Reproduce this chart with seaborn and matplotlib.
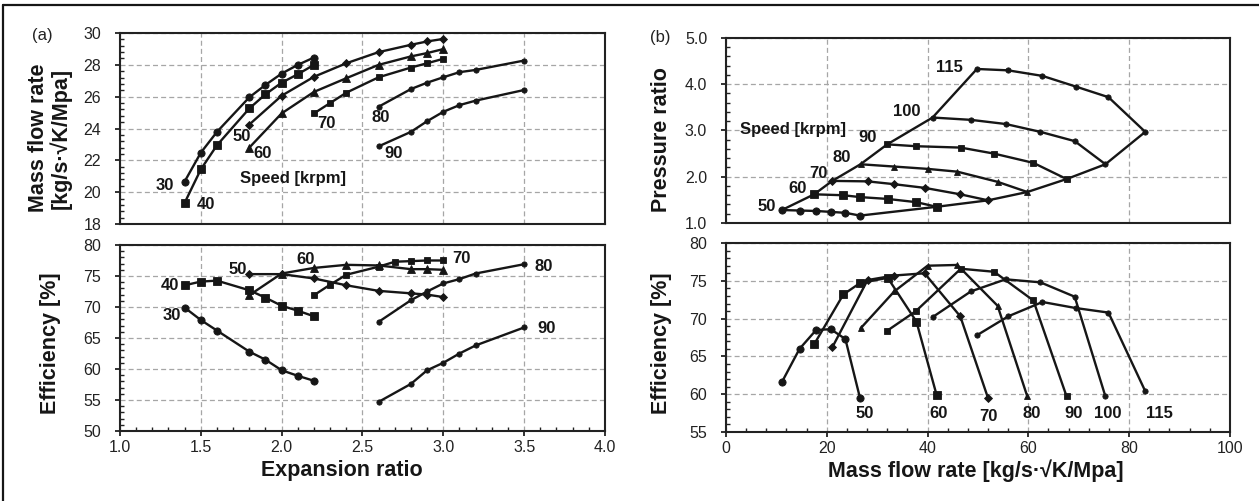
import matplotlib
matplotlib.use("Agg")
import matplotlib.pyplot as plt
from matplotlib.lines import Line2D
from matplotlib.ticker import MultipleLocator, FormatStrFormatter
import seaborn as sns

# ---------------- data: (a) expansion ratio map ----------------
ER_A = [1.4, 1.5, 1.6, 1.8, 1.9, 2.0, 2.1, 2.2]          # 30, 40 krpm
ER_B = [1.8, 2.0, 2.2, 2.4, 2.6, 2.8, 2.9, 3.0]          # 50, 60 krpm
ER_70M = [2.2, 2.3, 2.4, 2.6, 2.8, 2.9, 3.0]
ER_70E = [2.2, 2.3, 2.4, 2.6, 2.7, 2.8, 2.9, 3.0]
ER_C = [2.6, 2.8, 2.9, 3.0, 3.1, 3.2, 3.5]               # 80, 90 krpm

MFR_30 = [20.67, 22.48, 23.79, 25.96, 26.74, 27.45, 28.0, 28.46]
MFR_40 = [19.33, 21.43, 22.95, 25.26, 26.15, 26.88, 27.41, 28.0]
MFR_50 = [24.25, 26.06, 27.25, 28.1, 28.8, 29.26, 29.47, 29.63]
MFR_60 = [22.8, 24.95, 26.3, 27.16, 28.0, 28.53, 28.74, 28.99]
MFR_70 = [24.95, 25.6, 26.25, 27.22, 27.83, 28.1, 28.38]
MFR_80 = [25.37, 26.48, 26.88, 27.22, 27.54, 27.68, 28.27]
MFR_90 = [22.88, 23.79, 24.46, 25.05, 25.47, 25.75, 26.42]

EFF_30 = [69.9, 67.9, 66.2, 62.8, 61.5, 59.8, 58.9, 58.1]
EFF_40 = [73.5, 74.1, 74.25, 72.7, 71.5, 70.2, 69.4, 68.5]
EFF_50 = [75.3, 75.3, 74.6, 73.5, 72.6, 72.2, 72.0, 71.6]
EFF_60 = [71.9, 75.4, 76.3, 76.8, 76.7, 76.1, 76.1, 76.0]
EFF_70 = [71.9, 73.6, 75.2, 76.5, 77.3, 77.4, 77.5, 77.5]
EFF_80 = [67.6, 71.1, 72.5, 73.8, 74.5, 75.4, 76.9]
EFF_90 = [54.7, 57.6, 59.8, 61.0, 62.5, 63.8, 66.7]

# ---------------- data: (b) mass flow map ----------------
SPEEDS_B = ["50", "60", "70", "80", "90", "100", "115"]
MF = {
    "50": [11.1, 14.6, 17.9, 20.8, 23.7, 26.6],
    "60": [17.5, 23.3, 26.6, 32.1, 37.8, 41.8],
    "70": [21.1, 28.1, 33.3, 39.4, 46.5, 52.0],
    "80": [26.7, 33.4, 40.0, 45.9, 53.9, 59.8],
    "90": [32.0, 37.7, 46.6, 53.2, 61.0, 67.6],
    "100": [41.0, 48.6, 55.5, 62.4, 69.2, 75.3],
    "115": [49.8, 56.0, 62.8, 69.4, 75.9, 83.2],
}
PR = {
    "50": [1.28, 1.27, 1.26, 1.24, 1.22, 1.16],
    "60": [1.62, 1.60, 1.56, 1.52, 1.45, 1.35],
    "70": [1.91, 1.90, 1.84, 1.76, 1.62, 1.49],
    "80": [2.27, 2.22, 2.17, 2.11, 1.89, 1.67],
    "90": [2.70, 2.66, 2.63, 2.50, 2.30, 1.95],
    "100": [3.28, 3.23, 3.14, 2.97, 2.77, 2.27],
    "115": [4.33, 4.30, 4.18, 3.95, 3.72, 2.97],
}
EFFB = {
    "50": [61.6, 66.0, 68.5, 68.6, 67.3, 59.5],
    "60": [66.6, 73.2, 74.7, 75.4, 69.6, 59.9],
    "70": [66.2, 75.1, 75.7, 76.0, 70.3, 59.5],
    "80": [68.7, 73.6, 77.0, 77.1, 71.7, 59.7],
    "90": [68.4, 71.0, 76.6, 76.2, 72.4, 59.7],
    "100": [70.2, 73.6, 75.2, 74.8, 72.9, 59.7],
    "115": [67.8, 70.3, 72.2, 71.4, 70.8, 60.4],
}

# ---------------- style ----------------
sns.set_theme(style="ticks")
plt.rcParams["font.family"] = ["Liberation Sans", "DejaVu Sans"]
plt.rcParams["axes.linewidth"] = 1.5

INK = "#161616"
GRID = "#a6a6a6"

fig = plt.figure(figsize=(12.59, 5.01), dpi=100)
ax1 = fig.add_axes([0.0953, 0.5529, 0.3852, 0.3812])
ax2 = fig.add_axes([0.0953, 0.1397, 0.3852, 0.3713])
ax3 = fig.add_axes([0.5766, 0.5549, 0.4003, 0.3693])
ax4 = fig.add_axes([0.5766, 0.1377, 0.4003, 0.3772])


def draw(ax, x, y, marker=None, ms=5.0):
    kw = dict(x=x, y=y, ax=ax, color=INK, linewidth=1.7, sort=False,
              estimator=None, legend=False)
    if marker is not None:
        kw.update(marker=marker, markersize=ms, markeredgecolor=INK,
                  markerfacecolor=INK, markeredgewidth=0.6)
    sns.lineplot(**kw)


# (a) top: mass flow rate
draw(ax1, ER_A, MFR_30, "o", 5.2)
draw(ax1, ER_A, MFR_40, "s", 5.2)
draw(ax1, ER_B, MFR_50, "D", 4.3)
draw(ax1, ER_B, MFR_60, "^", 5.2)
draw(ax1, ER_70M, MFR_70, "s", 4.3)
draw(ax1, ER_C, MFR_80, "o", 3.8)
draw(ax1, ER_C, MFR_90, "o", 3.8)

# (a) bottom: efficiency
draw(ax2, ER_A, EFF_30, "o", 5.2)
draw(ax2, ER_A, EFF_40, "s", 5.2)
draw(ax2, ER_B, EFF_50, "D", 4.3)
draw(ax2, ER_B, EFF_60, "^", 5.2)
draw(ax2, ER_70E, EFF_70, "s", 4.3)
draw(ax2, ER_C, EFF_80, "o", 3.8)
draw(ax2, ER_C, EFF_90, "o", 3.8)

MARK_B = {"50": ("o", 5.2), "60": ("s", 5.2), "70": ("D", 4.3), "80": ("^", 4.8),
          "90": ("s", 4.3), "100": ("o", 3.8), "115": ("o", 3.8)}
for s in SPEEDS_B:
    m, ms = MARK_B[s]
    draw(ax3, MF[s], PR[s], m, ms)
    draw(ax4, MF[s], EFFB[s], m, ms)
# surge and choke lines of the compressor map
draw(ax3, [MF[s][0] for s in SPEEDS_B], [PR[s][0] for s in SPEEDS_B])
draw(ax3, [MF[s][-1] for s in SPEEDS_B], [PR[s][-1] for s in SPEEDS_B])

# ---------------- axes formatting ----------------
for ax in (ax1, ax2, ax3, ax4):
    ax.set_axisbelow(True)
    ax.grid(True, which="major", color=GRID, linestyle=(0, (4, 2.5)), linewidth=0.9)
    for sp in ax.spines.values():
        sp.set_color("#222222")
        sp.set_linewidth(1.5)
    ax.tick_params(which="major", direction="out", length=3.5, width=1.3,
                   labelsize=11.5, labelcolor="#222222", color="#222222")
    ax.tick_params(which="minor", direction="in", length=2.8, width=1.0, color="#222222")
    ax.tick_params(axis="y", which="major", pad=10)
    ax.tick_params(axis="x", which="major", pad=3)
    ax.set_xlabel("")
    ax.set_ylabel("")

for ax in (ax1, ax2):
    ax.set_xlim(1.0, 4.0)
    ax.xaxis.set_major_locator(MultipleLocator(0.5))
    ax.xaxis.set_major_formatter(FormatStrFormatter("%.1f"))
    ax.xaxis.set_minor_locator(MultipleLocator(0.1))
for ax in (ax3, ax4):
    ax.set_xlim(0, 100)
    ax.xaxis.set_major_locator(MultipleLocator(20))
    ax.xaxis.set_minor_locator(MultipleLocator(4))

for ax in (ax1, ax3):
    ax.tick_params(axis="x", which="both", length=0, labelbottom=False)

ax1.set_ylim(18, 30)
ax1.yaxis.set_major_locator(MultipleLocator(2))
ax1.yaxis.set_minor_locator(MultipleLocator(0.4))
ax2.set_ylim(50, 80)
ax2.yaxis.set_major_locator(MultipleLocator(5))
ax2.yaxis.set_minor_locator(MultipleLocator(1))
ax3.set_ylim(1.0, 5.0)
ax3.yaxis.set_major_locator(MultipleLocator(1.0))
ax3.yaxis.set_major_formatter(FormatStrFormatter("%.1f"))
ax3.yaxis.set_minor_locator(MultipleLocator(0.2))
ax4.set_ylim(55, 80)
ax4.yaxis.set_major_locator(MultipleLocator(5))
ax4.yaxis.set_minor_locator(MultipleLocator(1))

# ---------------- annotations ----------------
lab = dict(ha="center", va="center", fontsize=12, fontweight="bold", color=INK)
for x, y, t in [(1.28, 20.44, "30"), (1.53, 19.2, "40"), (1.75, 23.5, "50"),
                (1.88, 22.4, "60"), (2.28, 24.3, "70"), (2.61, 24.72, "80"),
                (2.69, 22.4, "90")]:
    ax1.text(x, y, t, **lab)
ax1.text(2.07, 20.85, "Speed [krpm]", **lab)

for x, y, t in [(1.32, 68.7, "30"), (1.31, 73.5, "40"), (1.73, 76.1, "50"),
                (2.15, 77.7, "60"), (3.11, 77.9, "70"), (3.62, 76.6, "80"),
                (3.64, 66.5, "90")]:
    ax2.text(x, y, t, **lab)

for x, y, t in [(8.1, 1.35, "50"), (14.3, 1.74, "60"), (18.3, 2.08, "70"),
                (23.0, 2.41, "80"), (28.2, 2.84, "90"), (35.9, 3.40, "100"),
                (44.4, 4.37, "115")]:
    ax3.text(x, y, t, **lab)
ax3.text(13.3, 3.03, "Speed [krpm]", **lab)

for x, y, t in [(27.6, 57.5, "50"), (42.1, 57.5, "60"), (52.0, 57.1, "70"),
                (60.7, 57.5, "80"), (68.9, 57.5, "90"), (75.8, 57.5, "100"),
                (86.1, 57.5, "115")]:
    ax4.text(x, y, t, **lab)

# axis titles
big = dict(ha="center", va="center", fontsize=15.5, fontweight="bold", color=INK)
fig.text(0.0397, 0.7246, "Mass flow rate\n[kg/s·√K/Mpa]", rotation=90,
         multialignment="center", linespacing=1.05, **big)
fig.text(0.0405, 0.3154, "Efficiency [%]", rotation=90, **big)
fig.text(0.5258, 0.7206, "Pressure ratio", rotation=90, **big)
fig.text(0.5258, 0.3154, "Efficiency [%]", rotation=90, **big)
fig.text(0.2716, 0.061, "Expansion ratio", **big)
fig.text(0.7752, 0.061, "Mass flow rate [kg/s·√K/Mpa]", **big)

fig.text(0.0334, 0.930, "(a)", ha="center", va="center", fontsize=12, color="#222222")
fig.text(0.5242, 0.926, "(b)", ha="center", va="center", fontsize=12, color="#222222")

# outer frame (top and left edges visible)
fig.add_artist(Line2D([0.0024, 1.0], [0.990, 0.990], transform=fig.transFigure,
                      color=INK, linewidth=1.6))
fig.add_artist(Line2D([0.0024, 0.0024], [0.0, 0.990], transform=fig.transFigure,
                      color=INK, linewidth=1.6))

fig.savefig("out.png", dpi=100)
